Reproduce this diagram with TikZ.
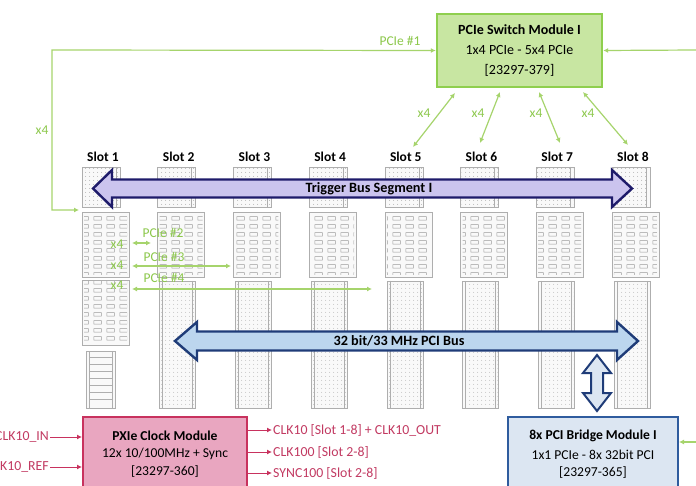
\documentclass[tikz,border=0pt]{standalone}
\usepackage{fontspec}
\setmainfont{Carlito}
\usetikzlibrary{arrows.meta,patterns.meta}
\definecolor{gline}{HTML}{A6D46C}
\definecolor{gtext}{HTML}{8CC84B}
\definecolor{swfill}{HTML}{C8E6A2}
\definecolor{swdraw}{HTML}{8FCF4E}
\definecolor{clkfill}{HTML}{E9A6C0}
\definecolor{clkdraw}{HTML}{C8325E}
\definecolor{clktext}{HTML}{C23A62}
\definecolor{brfill}{HTML}{DCE6F2}
\definecolor{brdraw}{HTML}{2F5C9E}
\definecolor{tbfill}{HTML}{CBC4EE}
\definecolor{tbdraw}{HTML}{1E1B6A}
\definecolor{pcifill}{HTML}{BCD6EE}
\definecolor{pcidraw}{HTML}{1F3C78}
\definecolor{dotc}{HTML}{9A9A9A}
\tikzdeclarepattern{
  name=sdots,
  type=uncolored,
  bounding box={(0pt,0pt) and (4pt,4pt)},
  tile size={(4pt,4pt)},
  code={\pgfpathcircle{\pgfpoint{2pt}{2pt}}{0.55pt}\pgfusepath{fill}}
}
\tikzdeclarepattern{
  name=sqpat,
  type=uncolored,
  bounding box={(0pt,0pt) and (13pt,8pt)},
  tile size={(13pt,8pt)},
  code={\pgfsetlinewidth{0.5pt}\pgfpathrectangle{\pgfpoint{3pt}{2pt}}{\pgfpoint{8pt}{4pt}}\pgfusepath{stroke}}
}
\begin{document}
\begin{tikzpicture}[x=1pt,y=-1pt,
  conn/.style={draw=dotc!80, line width=0.6pt},
  connbg/.style={fill=gray!5},
  slotlbl/.style={font=\fontsize{13.5}{15}\selectfont\bfseries, text=black, inner sep=0pt},
  glab/.style={font=\fontsize{13.5}{15}\selectfont, text=gtext, inner sep=0pt},
  garrow/.style={draw=gline, line width=1.2pt, {Latex[length=5pt,width=5pt]}-{Latex[length=5pt,width=5pt]}},
  garrowr/.style={draw=gline, line width=1.2pt, -{Latex[length=5pt,width=5pt]}},
  carrow/.style={draw=clkdraw, line width=1pt, -{Latex[length=5pt,width=5pt]}},
  clab/.style={font=\fontsize{13.8}{15}\selectfont, text=clktext, inner sep=1pt},
  btxt/.style={font=\fontsize{13.6}{15}\selectfont, text=black, inner sep=0pt},
  bustxt/.style={font=\fontsize{14.2}{16}\selectfont\bfseries, text=black, inner sep=0pt},
  busbox/.style={line width=2.4pt, line join=miter}
]
\clip (0,0) rectangle (696,486);
\path[use as bounding box] (0,0) rectangle (696,486);
\fill[white] (0,0) rectangle (696,486);

% ---------- slots ----------
\foreach \i in {1,...,8}{
  \pgfmathsetmacro\L{82+75.7*(\i-1)}
  \node[slotlbl] (slot\i) at (\L+21,157) {Slot \i};
  % top connector
  \fill[connbg] (\L,167) rectangle (\L+38,207);
  \fill[pattern=sdots, pattern color=dotc] (\L+1,168) rectangle (\L+37,206);
  \draw[conn] (\L,167) rectangle (\L+38,207);
  \draw[conn] (\L+34,167) -- (\L+34,207);
  % middle connector
  \fill[connbg] (\L,212) rectangle (\L+47,277);
  \fill[pattern=sqpat, pattern color=dotc] (\L+2,214) rectangle (\L+45,275);
  \draw[conn] (\L,212) rectangle (\L+47,277);
  \ifnum\i>1
    \fill[connbg] (\L+2,281) rectangle (\L+38,408);
    \fill[pattern=sdots, pattern color=dotc!80] (\L+3,282) rectangle (\L+37,407);
    \draw[conn] (\L+2,281) rectangle (\L+38,408);
    \draw[conn] (\L+5,281) -- (\L+5,408);
    \draw[conn] (\L+35,281) -- (\L+35,408);
  \fi
}
% slot 1 extra blocks
\fill[connbg] (82,280) rectangle (129,345);
\fill[pattern=sqpat, pattern color=dotc] (84,282) rectangle (127,343);
\draw[conn] (82,280) rectangle (129,345);
\fill[connbg] (86,351) rectangle (115,408);
\draw[conn] (86,351) rectangle (115,408);
\foreach \yy in {357,364,...,404}{
  \draw[conn] (89,\yy) -- (112,\yy);
}
\draw[conn] (89,351) -- (89,408);
\draw[conn] (112,351) -- (112,408);

% ---------- boxes ----------
\node[draw=swdraw, fill=swfill, line width=2.4pt, minimum width=165pt, minimum height=73pt,
      align=center, font=\fontsize{14}{20}\selectfont, inner sep=0pt] (sw) at (519.5,50.5)
      {\textbf{PCIe Switch Module I}\\1x4 PCIe - 5x4 PCIe\\{[23297-379]}};

\node[draw=clkdraw, fill=clkfill, line width=2pt, minimum width=164pt, minimum height=90pt, inner sep=0pt] (clk) at (165,462) {};
\node[btxt] (clk1) at (165,436) {\bfseries PXIe Clock Module};
\node[btxt] (clk2) at (165,454) {12x 10/100MHz + Sync};
\node[btxt] (clk3) at (165,472) {[23297-360]};

\node[draw=brdraw, fill=brfill, line width=2pt, minimum width=170pt, minimum height=90pt, inner sep=0pt] (br) at (593,462) {};
\node[btxt] (br1) at (593,436) {\bfseries 8x PCI Bridge Module I};
\node[btxt] (br2) at (593,455) {1x1 PCIe - 8x 32bit PCI};
\node[btxt] (br3) at (593,473) {[23297-365]};

% ---------- buses ----------
\draw[busbox, draw=tbdraw, fill=tbfill]
  (93,188.5) -- (112,170) -- (112,179.5) -- (612,179.5) -- (612,170) -- (632,188.5)
  -- (612,207) -- (612,197.5) -- (112,197.5) -- (112,207) -- cycle;
\node[bustxt] (tbus) at (369,189) {Trigger Bus Segment I};

\draw[busbox, draw=pcidraw, fill=pcifill]
  (175,341) -- (197,322) -- (197,331.5) -- (617,331.5) -- (617,322) -- (638,341)
  -- (617,360) -- (617,350.5) -- (197,350.5) -- (197,360) -- cycle;
\node[bustxt] (pbus) at (399,341) {32 bit/33 MHz PCI Bus};

\draw[line width=2pt, draw=pcidraw, fill=brfill, line join=miter]
  (597,355) -- (611,373) -- (603,373) -- (603,393) -- (611,393) -- (597,411)
  -- (583,393) -- (591,393) -- (591,373) -- (583,373) -- cycle;

% ---------- green PCIe connectors ----------
\coordinate (s1in) at (79,210);
\coordinate (lcorner) at (52,50);
\coordinate (rin) at (697,50);
\coordinate (brin) at (697,442);
\draw[garrow] (s1in) -| (lcorner) -- (sw.west);
\draw[garrowr] (rin) -- (sw.east);
\draw[garrowr] (brin) -- (br.east |- brin);
\node[glab] (pcie1) at (400,41) {PCIe \#1};
\node[glab] (x4l) at (42,130) {x4};

\coordinate (t5) at (455,93);  \coordinate (b5) at (413,147);
\coordinate (t6) at (500,92);  \coordinate (b6) at (480,143);
\coordinate (t7) at (539,92);  \coordinate (b7) at (560,143);
\coordinate (t8) at (583,92);  \coordinate (b8) at (628,145);
\draw[garrow] (b5) -- (t5);
\draw[garrow] (b6) -- (t6);
\draw[garrow] (b7) -- (t7);
\draw[garrow] (b8) -- (t8);
\node[glab] (x45) at (424,113) {x4};
\node[glab] (x46) at (478,113) {x4};
\node[glab] (x47) at (536,113) {x4};
\node[glab] (x48) at (588,113) {x4};

\coordinate (p2a) at (132,243); \coordinate (p2b) at (151,243);
\coordinate (p3a) at (132,266); \coordinate (p3b) at (231,266);
\coordinate (p4a) at (132,289); \coordinate (p4b) at (372,289);
\draw[garrow] (p2a) -- (p2b);
\draw[garrow] (p3a) -- (p3b);
\draw[garrow] (p4a) -- (p4b);
\node[glab] (x42) at (117,244) {x4};
\node[glab] (x43) at (117,265) {x4};
\node[glab] (x44) at (117,285) {x4};
\node[glab] (pcie2) at (163,233) {PCIe \#2};
\node[glab] (pcie3) at (164,257) {PCIe \#3};
\node[glab] (pcie4) at (164,278) {PCIe \#4};

% ---------- clock signals ----------
\node[clab, anchor=east] (clkin) at (50,437) {CLK10\_IN};
\node[clab, anchor=east] (clkref) at (50,467) {CLK10\_REF};
\draw[carrow] (clkin.east) -- (clk.west |- clkin.east);
\draw[carrow] (clkref.east) -- (clk.west |- clkref.east);
\node[clab, anchor=west] (o1) at (272,430) {CLK10 [Slot 1-8] + CLK10\_OUT};
\node[clab, anchor=west] (o2) at (272,452) {CLK100 [Slot 2-8]};
\node[clab, anchor=west] (o3) at (272,473) {SYNC100 [Slot 2-8]};
\draw[carrow] (clk.east |- o1.west) -- (o1.west);
\draw[carrow] (clk.east |- o2.west) -- (o2.west);
\draw[carrow] (clk.east |- o3.west) -- (o3.west);
\end{tikzpicture}
\end{document}
